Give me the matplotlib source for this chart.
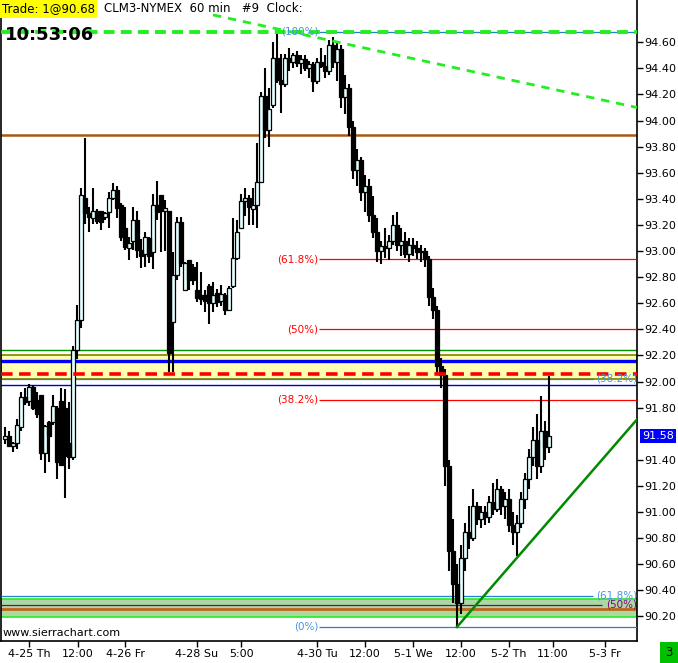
import matplotlib
matplotlib.use("Agg")
import matplotlib.pyplot as plt
import matplotlib.transforms as mtransforms
import numpy as np

# 60 min bars, CLM3
opens = [91.56, 91.58, 91.51, 91.53, 91.65, 91.88, 91.85, 91.96, 91.86, 91.90,
         91.45, 91.69, 91.69, 91.80, 91.85, 91.80, 91.53, 91.42, 92.24, 92.47,
         93.41, 93.29, 93.25, 93.31, 93.31, 93.26, 93.30, 93.41, 93.47, 93.35,
         93.18, 93.02, 93.08, 93.24, 93.01, 92.98, 93.10, 92.99, 93.35, 93.43,
         93.31, 93.31, 92.46, 92.82, 93.22, 92.70, 92.93, 92.88, 92.70, 92.66,
         92.66, 92.73, 92.60, 92.68, 92.62, 92.66, 92.55, 92.73, 92.95, 93.18,
         93.38, 93.41, 93.32, 93.35, 93.53, 94.19, 93.93, 94.12, 94.48, 94.31,
         94.28, 94.48, 94.45, 94.50, 94.44, 94.47, 94.40, 94.43, 94.30, 94.45,
         94.42, 94.38, 94.58, 94.45, 94.55, 94.18, 94.25, 93.95, 93.62, 93.70,
         93.45, 93.50, 93.28, 93.15, 93.00, 93.04, 93.02, 93.08, 93.20, 93.05,
         93.08, 92.98, 93.05, 93.02, 92.99, 93.00, 92.94, 92.65, 92.55, 92.12,
         92.05, 91.35, 90.70, 90.45, 90.30, 90.65, 90.85, 90.80, 91.05, 90.95,
         91.00, 90.96, 91.08, 91.02, 91.18, 91.05, 91.10, 90.90, 90.85, 90.92,
         91.10, 91.25, 91.42, 91.55, 91.35, 91.62, 91.50]
highs = [91.65, 91.62, 91.54, 91.71, 91.92, 91.95, 91.98, 91.97, 91.92, 91.90,
         91.67, 91.70, 91.90, 91.81, 91.95, 91.94, 91.84, 92.27, 92.59, 93.48,
         93.87, 93.34, 93.48, 93.32, 93.31, 93.30, 93.45, 93.52, 93.50, 93.37,
         93.34, 93.11, 93.34, 93.31, 93.09, 93.15, 93.11, 93.44, 93.54, 93.43,
         93.39, 93.31, 92.99, 93.26, 93.26, 92.92, 92.93, 92.90, 92.92, 92.84,
         92.70, 92.75, 92.76, 92.71, 92.74, 92.68, 92.73, 93.25, 93.24, 93.44,
         93.48, 93.43, 93.48, 93.83, 94.22, 94.40, 94.25, 94.60, 94.66, 94.51,
         94.51, 94.56, 94.52, 94.53, 94.50, 94.50, 94.46, 94.45, 94.48, 94.56,
         94.50, 94.62, 94.64, 94.60, 94.58, 94.35, 94.28, 94.00, 93.78, 93.72,
         93.58, 93.55, 93.42, 93.25, 93.08, 93.18, 93.12, 93.28, 93.30, 93.18,
         93.15, 93.10, 93.10, 93.08, 93.05, 93.02, 92.96, 92.72, 92.58, 92.18,
         92.10, 91.40, 90.95, 90.60, 90.75, 90.92, 91.05, 91.18, 91.08, 91.05,
         91.05, 91.12, 91.22, 91.25, 91.20, 91.15, 91.18, 91.00, 90.98, 91.15,
         91.30, 91.48, 91.65, 91.75, 91.89, 91.70, 92.04]
lows = [91.52, 91.50, 91.46, 91.48, 91.62, 91.82, 91.81, 91.78, 91.72, 91.40,
        91.30, 91.38, 91.67, 91.25, 91.35, 91.11, 91.33, 91.40, 92.17, 92.41,
        93.21, 93.15, 93.21, 93.21, 93.16, 93.24, 93.18, 93.39, 93.25, 93.08,
        93.01, 92.93, 93.01, 92.95, 92.87, 92.88, 92.91, 92.86, 93.24, 92.99,
        93.00, 92.07, 92.07, 92.78, 92.88, 92.70, 92.70, 92.74, 92.61, 92.59,
        92.53, 92.44, 92.53, 92.57, 92.58, 92.51, 92.54, 92.72, 92.93, 93.18,
        93.27, 93.20, 93.20, 93.18, 93.52, 93.87, 93.80, 94.10, 94.29, 94.06,
        94.26, 94.38, 94.40, 94.41, 94.36, 94.38, 94.33, 94.22, 94.28, 94.40,
        94.33, 94.35, 94.40, 94.30, 94.10, 94.05, 93.88, 93.55, 93.50, 93.38,
        93.30, 93.22, 93.10, 92.92, 92.90, 92.95, 92.93, 93.05, 93.00, 92.96,
        92.95, 92.92, 92.96, 92.94, 92.92, 92.88, 92.58, 92.48, 92.05, 91.95,
        91.20, 90.55, 90.30, 90.12, 90.22, 90.55, 90.72, 90.78, 90.90, 90.88,
        90.90, 90.92, 90.98, 91.00, 90.98, 90.95, 90.85, 90.75, 90.66, 90.88,
        91.02, 91.18, 91.35, 91.25, 91.30, 91.40, 91.45]
closes = [91.58, 91.51, 91.53, 91.67, 91.88, 91.84, 91.96, 91.80, 91.75, 91.45,
          91.66, 91.58, 91.81, 91.38, 91.36, 91.43, 91.42, 92.24, 92.47, 93.43,
          93.29, 93.26, 93.31, 93.23, 93.22, 93.29, 93.41, 93.47, 93.33, 93.11,
          93.03, 93.06, 93.24, 93.01, 92.96, 93.11, 92.96, 93.35, 93.30, 93.31,
          93.33, 92.22, 92.82, 93.22, 92.91, 92.91, 92.78, 92.78, 92.64, 92.63,
          92.62, 92.60, 92.66, 92.61, 92.67, 92.55, 92.72, 92.95, 93.15, 93.38,
          93.41, 93.34, 93.35, 93.53, 94.19, 93.93, 94.09, 94.48, 94.31, 94.28,
          94.48, 94.45, 94.50, 94.44, 94.47, 94.40, 94.43, 94.30, 94.45, 94.42,
          94.38, 94.58, 94.45, 94.55, 94.18, 94.25, 93.95, 93.62, 93.70, 93.45,
          93.50, 93.28, 93.15, 93.00, 93.04, 93.02, 93.08, 93.20, 93.05, 93.08,
          92.98, 93.05, 93.02, 92.99, 93.00, 92.94, 92.65, 92.55, 92.12, 92.05,
          91.35, 90.70, 90.45, 90.30, 90.65, 90.85, 90.80, 91.05, 90.95, 91.00,
          90.96, 91.08, 91.02, 91.18, 91.05, 91.10, 90.90, 90.85, 90.92, 91.10,
          91.25, 91.42, 91.55, 91.35, 91.62, 91.50, 91.58]

x_tick_pos = [6, 18.25, 30, 48, 59, 78, 90, 102, 114, 126, 137, 150]
x_tick_labels = ["4-25 Th", "12:00", "4-26 Fr", "4-28 Su", "5:00", "4-30 Tu",
                 "12:00", "5-1 We", "12:00", "5-2 Th", "11:00", "5-3 Fr"]
y_ticks = [90.20, 90.40, 90.60, 90.80, 91.00, 91.20, 91.40, 91.80, 92.00,
           92.20, 92.40, 92.60, 92.80, 93.00, 93.20, 93.40, 93.60, 93.80,
           94.00, 94.20, 94.40, 94.60]

# fib retracement of the drop 94.68 -> 90.12
fib_high = 94.68
fib_low = 90.12
fib_levels = [0.0, 0.382, 0.5, 0.618, 1.0]
fib_names = ["(0%)", "(38.2%)", "(50%)", "(61.8%)", "(100%)"]

# second fib set on the right
right_fib_names = ["(38.2%)", "(61.8%)", "(50%)"]
right_fib_prices = [92.02, 90.36, 90.29]

# drawn lines / zones
res_zone = [92.02, 92.205]
sup_zone = [90.198, 90.336]
last_price = 91.58
trend_down_x = [52, 158]
trend_down_y = [94.81, 94.10]
trend_up_x = [113, 158]
trend_up_y = [90.12, 91.71]

W, H = 678, 663
fig = plt.figure(figsize=(W / 100, H / 100), dpi=100)
ax = fig.add_axes([1 / W, 22 / H, 636 / W, 641 / H])
ax.set_xlim(-1, 158)
ax.set_ylim(90.012, 94.924)

# zones and horizontal lines
ax.axhspan(res_zone[0], res_zone[1], facecolor="#ffffb4", edgecolor="#8c8c00", lw=1.3, zorder=1)
ax.axhspan(sup_zone[0], sup_zone[1], facecolor="#acd8a4", edgecolor="#22ee22", lw=1.2, zorder=1)
ax.axhline(92.244, color="#009000", lw=1.0, zorder=2)
ax.axhline(92.154, color="#0000ff", lw=2.4, zorder=2)
ax.axhline(92.06, color="#ff0000", lw=2.6, dashes=(3.2, 1.8), zorder=7)
ax.axhline(91.976, color="#0000c8", lw=1.0, zorder=2)
ax.axhline(93.888, color="#a85a14", lw=1.8, zorder=2)
ax.axhline(90.254, color="#c0661a", lw=2.0, zorder=2)
ax.axhline(fib_high, color="#22ee22", lw=2.8, dashes=(2.8, 1.6), zorder=7)

# fib lines with labels
for lev, name in zip(fib_levels, fib_names):
    price = fib_low + lev * (fib_high - fib_low)
    col = "#ff0000" if 0 < lev < 1 else "#2a7fc8"
    ax.hlines(price, 78.5, 158, color=col, lw=0.9, zorder=3)
    ax.text(78.3, price, name, color=col if col == "#ff0000" else "#4a94dc",
            fontsize=7.5, ha="right", va="center", zorder=8)

for name, price in zip(right_fib_names, right_fib_prices):
    col = "#800080" if name == "(50%)" else "#2a7fc8"
    end = 149.3 if name == "(50%)" else 147
    ax.hlines(price, -1, end, color=col, lw=0.9, zorder=3)
    ax.text(158, price, name, color=col if col == "#800080" else "#4a94dc",
            fontsize=7.5, ha="right", va="center", zorder=8)

# trend lines
ax.plot(trend_down_x, trend_down_y, color="#22ee22", lw=2.0, dashes=(3, 2.5), zorder=7)
ax.plot(trend_up_x, trend_up_y, color="#008a00", lw=1.8, zorder=7)

# candles
o = np.array(opens)
hi = np.array(highs)
lo = np.array(lows)
c = np.array(closes)
idx = np.arange(len(c))
up = c >= o
ax.vlines(idx, lo, hi, color="black", lw=1.5, zorder=5)
bot = np.minimum(o, c)
hgt = np.maximum(np.abs(c - o), 0.012)
ax.bar(idx[up], hgt[up], bottom=bot[up], width=0.78, color="#e4ffff",
       edgecolor="black", lw=0.9, zorder=6)
ax.bar(idx[~up], hgt[~up], bottom=bot[~up], width=0.78, color="black",
       edgecolor="black", lw=0.9, zorder=6)

# axes look
ax.spines["top"].set_visible(False)
for s in ["left", "right", "bottom"]:
    ax.spines[s].set_color("black")
    ax.spines[s].set_linewidth(1.2)
ax.yaxis.tick_right()
ax.set_yticks(y_ticks)
ax.set_yticklabels([f"{v:.2f}" for v in y_ticks])
ax.set_xticks(x_tick_pos)
ax.set_xticklabels(x_tick_labels)
ax.tick_params(axis="both", direction="out", length=4, width=1, labelsize=8, colors="black")
ax.tick_params(axis="y", pad=1.5)
ax.tick_params(axis="x", pad=2)

# last price box
trans = mtransforms.blended_transform_factory(ax.transAxes, ax.transData)
ax.text(1.008, last_price, f"{last_price:.2f}", transform=trans, fontsize=8,
        color="white", va="center", ha="left",
        bbox=dict(facecolor="#0000ff", edgecolor="none", pad=1.5), zorder=9)

# header and overlays
fig.text(2 / W, 1 - 9 / H, "Trade: 1@90.68", fontsize=8.5, va="center", ha="left",
         bbox=dict(facecolor="#ffff00", edgecolor="none", pad=1.5), zorder=10)
fig.text(104 / W, 1 - 9 / H, "CLM3-NYMEX  60 min   #9  Clock:", fontsize=8.5,
         va="center", ha="left")
fig.text(5 / W, 1 - 35 / H, "10:53:06", fontsize=13, fontweight="bold",
         va="center", ha="left", zorder=10)
fig.text(3 / W, 1 - 633 / H, "www.sierrachart.com", fontsize=8, va="center", ha="left")
fig.text(669 / W, 1 - 653 / H, "3", fontsize=8.5, va="center", ha="center",
         bbox=dict(facecolor="#00c000", edgecolor="none", pad=3.5))

fig.savefig("out.png", dpi=100)
